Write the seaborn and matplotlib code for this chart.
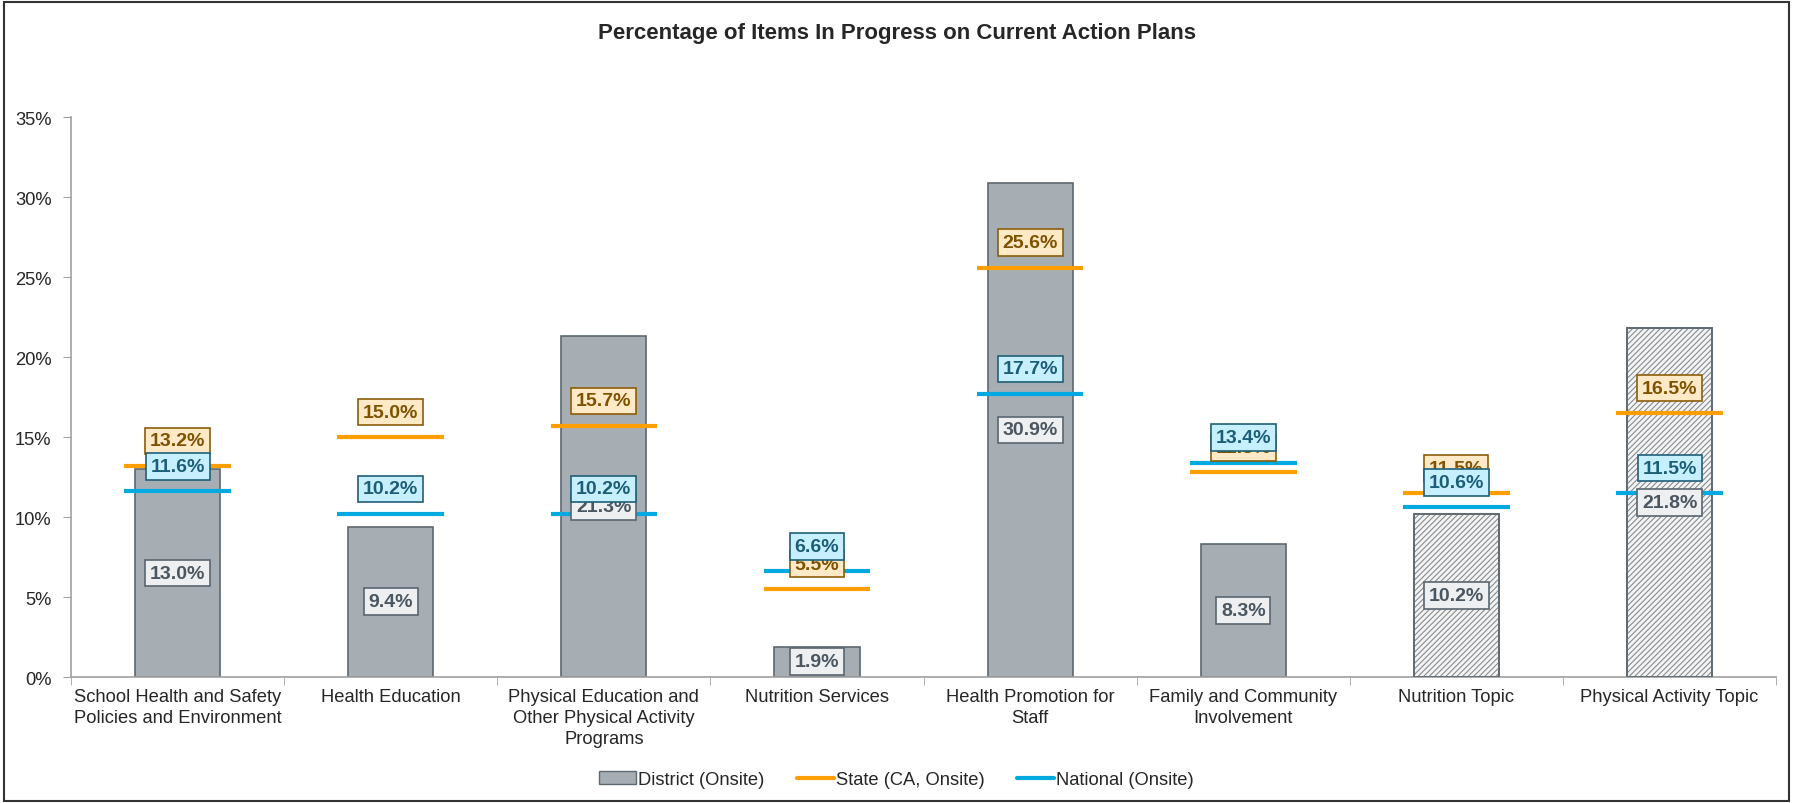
import numpy as np
import pandas as pd
import matplotlib
matplotlib.use('Agg')
import matplotlib.pyplot as plt
import seaborn as sns
from matplotlib.patches import Patch, Rectangle
from matplotlib.lines import Line2D
from matplotlib.ticker import FuncFormatter, FixedLocator

# Chart data
categories = ['School Health and Safety\nPolicies and Environment', 'Health Education',
              'Physical Education and\nOther Physical Activity\nPrograms', 'Nutrition Services',
              'Health Promotion for\nStaff', 'Family and Community\nInvolvement',
              'Nutrition Topic', 'Physical Activity Topic']
district = [13.0, 9.4, 21.3, 1.9, 30.9, 8.3, 10.2, 21.8]
state = [13.2, 15.0, 15.7, 5.5, 25.6, 12.8, 11.5, 16.5]
national = [11.6, 10.2, 10.2, 6.6, 17.7, 13.4, 10.6, 11.5]
hatched = [False, False, False, False, False, False, True, True]

df = pd.DataFrame({'category': categories, 'district': district})

sns.set_style('white')
plt.rcParams['font.family'] = ['Liberation Sans', 'DejaVu Sans']
plt.rcParams['hatch.linewidth'] = 0.8

BAR_GREY = '#A6AEB4'
BAR_EDGE = '#5E686F'
ORANGE = '#FF9E00'
BLUE = '#00A9E0'

fig = plt.figure(figsize=(17.93, 8.04), dpi=100)
fig.patches.append(Rectangle((0.002, 0.002), 0.996, 0.994, transform=fig.transFigure,
                             fill=False, edgecolor='#333333', linewidth=1.5))
ax = fig.add_axes([0.0396, 0.1567, 0.951, 0.6963])

sns.barplot(data=df, x='category', y='district', color=BAR_GREY, width=0.4,
            edgecolor=BAR_EDGE, linewidth=1.2, saturation=1, ax=ax)

x = np.arange(len(categories))
for i, p in enumerate(ax.patches):
    if hatched[i]:
        p.set_facecolor('#F4F4F4')
hx = x[np.array(hatched)]
hv = np.array(district)[np.array(hatched)]
ax.bar(hx, hv, width=0.4, fill=False, hatch='//////', edgecolor='#868C91', linewidth=0, zorder=2.5)
ax.bar(hx, hv, width=0.4, fill=False, edgecolor=BAR_EDGE, linewidth=1.2, zorder=2.6)

ax.hlines(state, x - 0.25, x + 0.25, color=ORANGE, linewidth=3, zorder=3)
ax.hlines(national, x - 0.25, x + 0.25, color=BLUE, linewidth=3, zorder=3)

# value labels
lab_kw = dict(ha='center', va='center', fontsize=14, fontweight='bold')
for xi, v in zip(x, district):
    ax.text(xi, v / 2, f'{v:.1f}%', color='#4A5660', zorder=5,
            bbox=dict(boxstyle='square,pad=0.25', fc='#EEEFF1', ec='#5A6570', lw=1.2), **lab_kw)
for xi, v in zip(x, state):
    ax.annotate(f'{v:.1f}%', (xi, v), xytext=(0, 18), textcoords='offset points',
                color='#7F5200', zorder=6,
                bbox=dict(boxstyle='square,pad=0.25', fc='#FFE9C6', ec='#8B5E0A', lw=1.2), **lab_kw)
for xi, v in zip(x, national):
    ax.annotate(f'{v:.1f}%', (xi, v), xytext=(0, 18), textcoords='offset points',
                color='#1C5E78', zorder=7,
                bbox=dict(boxstyle='square,pad=0.25', fc='#C6F0FF', ec='#1F5F78', lw=1.2), **lab_kw)

ax.set_ylim(0, 35)
ax.set_xlim(-0.5, len(categories) - 0.5)
ax.set_yticks(np.arange(0, 36, 5))
ax.yaxis.set_major_formatter(FuncFormatter(lambda v, _: f'{v:.0f}%'))
ax.set_xlabel('')
ax.set_ylabel('')
ax.xaxis.set_minor_locator(FixedLocator(np.arange(-0.5, len(categories), 1.0)))
ax.tick_params(axis='x', which='major', length=0, labelsize=13.2, pad=8)
ax.tick_params(axis='x', which='minor', length=6, color='#A0A0A0', direction='out', bottom=True)
ax.tick_params(axis='y', length=6, color='#A0A0A0', direction='out', left=True, labelsize=13.2, pad=8)
for s in ['top', 'right']:
    ax.spines[s].set_visible(False)
for s in ['left', 'bottom']:
    ax.spines[s].set_color('#A0A0A0')
    ax.spines[s].set_linewidth(1.2)
for lab in ax.get_xticklabels():
    lab.set_va('top')
    lab.set_linespacing(1.3)

fig.text(0.5, 0.958, 'Percentage of Items In Progress on Current Action Plans',
         ha='center', va='center', fontsize=16, fontweight='bold')

handles = [Patch(facecolor=BAR_GREY, edgecolor=BAR_EDGE, label='District (Onsite)'),
           Line2D([0], [0], color=ORANGE, lw=3, label='State (CA, Onsite)'),
           Line2D([0], [0], color=BLUE, lw=3, label='National (Onsite)')]
fig.legend(handles=handles, loc='center', bbox_to_anchor=(0.5, 0.029), ncol=3, frameon=False,
           fontsize=13.2, handlelength=2.0, handletextpad=0.1, columnspacing=1.8)

fig.savefig('out.png', dpi=100)
